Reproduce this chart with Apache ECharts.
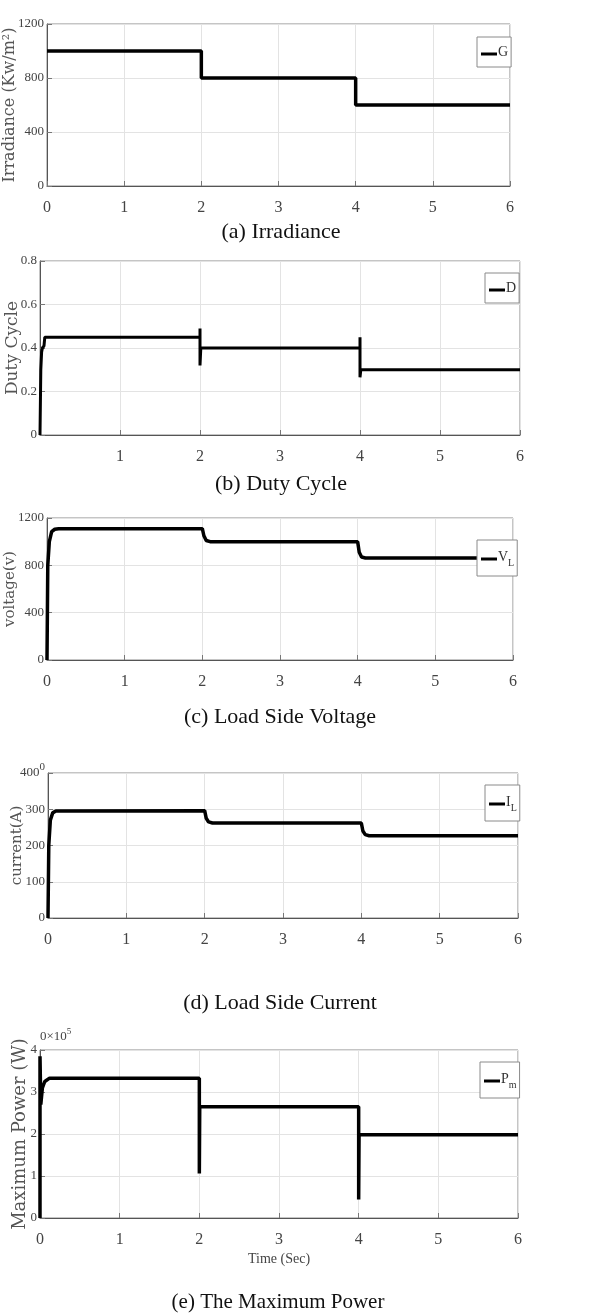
<!DOCTYPE html>
<html>
<head>
<meta charset="utf-8">
<script src="https://cdn.jsdelivr.net/npm/echarts@6/dist/echarts.min.js"></script>
<style>
html,body{margin:0;padding:0;background:#fff;}
#c{width:603px;height:1313px;}
</style>
</head>
<body>
<div id="c"></div>
<script>
// ---- data (time in s) ----
var xTicks = [0, 1, 2, 3, 4, 5, 6];
var irradiance = [[0,1000],[2,1000],[2,800],[4,800],[4,600],[6,600]];
var dutyCycle = [[0,0],[0.01,0.3],[0.02,0.38],[0.03,0.4],[0.05,0.41],[0.06,0.45],[2,0.45],[2,0.49],[2,0.32],[2.01,0.4],[4,0.4],[4,0.45],[4,0.265],[4.01,0.3],[6,0.3]];
var loadVoltage = [[0,0],[0.01,800],[0.03,1000],[0.06,1085],[0.1,1105],[0.15,1110],[2,1110],[2.02,1050],[2.05,1010],[2.1,1000],[4,1000],[4.02,910],[4.05,870],[4.1,862],[6,862]];
var loadCurrent = [[0,0],[0.01,200],[0.03,270],[0.06,290],[0.1,295],[2,296],[2.02,275],[2.05,265],[2.1,262],[4,262],[4.02,240],[4.05,230],[4.1,227],[6,227]];
var maxPower = [[0,0],[0,3.85],[0.01,2.7],[0.03,3.1],[0.06,3.25],[0.12,3.33],[2,3.33],[2,1.06],[2.005,2.65],[4,2.65],[4,0.44],[4.005,1.98],[6,1.98]]; // x10^5 W
var captions = ['(a) Irradiance','(b) Duty Cycle','(c) Load Side Voltage','(d) Load Side Current','(e) The Maximum Power'];
var yNames = ['Irradiance (Kw/m\u00B2)','Duty Cycle','voltage(v)','current(A)','Maximum Power (W)'];
var seriesNames = ['G','D','V_L','I_L','P_m'];

var grids = [
  {left:47, top:24,  width:463, height:162},
  {left:40, top:261, width:480, height:174},
  {left:47, top:518, width:466, height:142},
  {left:48, top:773, width:470, height:145},
  {left:40, top:1050,width:478, height:168}
];
var yCfg = [
  {min:0,max:1200,interval:400},
  {min:0,max:0.8,interval:0.2},
  {min:0,max:1200,interval:400},
  {min:0,max:400,interval:100},
  {min:0,max:4,interval:1}
];
var datasets = [irradiance, dutyCycle, loadVoltage, loadCurrent, maxPower];
var lineW = [3.5, 3, 3.5, 3.5, 3.5];
var captionY = [232, 484, 717, 1003, 1302];
var captionX = [281, 281, 280, 280, 278];
var captionFont = [22, 22, 22, 22, 21];
var nameGaps = [29, 19, 29, 23, 11];
var nameFonts = [16, 17, 15, 15, 18];
var legendPos = [
  {left:477, top:37},
  {left:485, top:273},
  {left:477, top:540},
  {left:485, top:785},
  {left:480, top:1062}
];

var FONT = 'Liberation Serif';
var graphics = captions.map(function(c,i){
  return {type:'text', x:captionX[i], y:captionY[i], silent:true,
    style:{text:c, align:'center', verticalAlign:'middle', font:captionFont[i]+'px "Liberation Serif"', fill:'#111'}};
});
graphics.push({
  type:'text', x:40, y:1037, silent:true,
  style:{text:'{a|0\u00D710}{b|5}', verticalAlign:'middle',
    rich:{a:{fontFamily:FONT, fontSize:13, fill:'#444'}, b:{fontFamily:FONT, fontSize:9, fill:'#444', padding:[0,0,10,0]}}}
});

var option = {
  backgroundColor:'#fff',
  animation:false,
  grid: grids.map(function(g){ return Object.assign({show:true, containLabel:false, outerBoundsMode:'none', borderColor:'#8a8a8a', borderWidth:1, backgroundColor:'transparent'}, g); }),
  legend: seriesNames.map(function(n,i){
    return Object.assign({
      data:[n], orient:'vertical', icon:'rect', itemWidth:16, itemHeight:3, itemGap:0,
      borderColor:'#8a8a8a', borderWidth:1, backgroundColor:'#fff', padding:[8,3,8,4], borderRadius:0,
      selectedMode:false,
      formatter:function(name){
        var p = name.split('_');
        return p.length>1 ? '{m|'+p[0]+'}{s|'+p[1]+'}' : '{m|'+p[0]+'}';
      },
      textStyle:{fontFamily:FONT, fontSize:14, color:'#333', padding:[0,0,0,-4],
        rich:{m:{fontFamily:FONT, fontSize:14, color:'#333', verticalAlign:'top', lineHeight:18},
              s:{fontFamily:FONT, fontSize:10, color:'#333', verticalAlign:'bottom', lineHeight:18, padding:[10,0,0,0]}}}
    }, legendPos[i]);
  }),
  xAxis: grids.map(function(g,i){
    return {
      type:'value', gridIndex:i, min:0, max:6, interval:1,
      name: i===4 ? 'Time (Sec)' : '', nameLocation:'middle', nameGap:34, nameMoveOverlap:false,
      nameTextStyle:{fontFamily:FONT, fontSize:14, color:'#444'},
      axisLine:{show:true, onZero:false, lineStyle:{color:'#555', width:1}},
      axisTick:{show:true, inside:true, length:5, lineStyle:{color:'#777'}},
      axisLabel:{fontFamily:FONT, fontSize:16, color:'#444', margin:14,
        formatter:function(v){ return (i===1 && v===0) ? '' : String(v); }},
      splitLine:{show:true, lineStyle:{color:'#e3e3e3', width:1}}
    };
  }),
  yAxis: grids.map(function(g,i){
    return {
      type:'value', gridIndex:i, min:yCfg[i].min, max:yCfg[i].max, interval:yCfg[i].interval,
      name:yNames[i], nameLocation:'middle', nameGap:nameGaps[i], nameMoveOverlap:false,
      nameTextStyle:{fontFamily:'DejaVu Serif', fontSize:nameFonts[i], color:'#555'},
      axisLine:{show:true, onZero:false, lineStyle:{color:'#555', width:1}},
      axisTick:{show:true, inside:true, length:5, lineStyle:{color:'#777'}},
      axisLabel:{fontFamily:FONT, fontSize:13, color:'#444', margin:3,
        formatter:function(v){
          if (i===3 && v===400) return '{n|400}{s|0}';
          return String(Math.round(v*10)/10);
        },
        rich:{n:{fontFamily:FONT, fontSize:13, color:'#444'}, s:{fontFamily:FONT, fontSize:11, color:'#444', padding:[0,0,12,0]}}},
      splitLine:{show:true, lineStyle:{color:'#e3e3e3', width:1}}
    };
  }),
  graphic: graphics,
  series: datasets.map(function(d,i){
    return {type:'line', name:seriesNames[i], xAxisIndex:i, yAxisIndex:i, data:d, showSymbol:false, symbol:'none',
      lineStyle:{color:'#000', width:lineW[i]}, itemStyle:{color:'#000'}, silent:true};
  })
};
var chart = echarts.init(document.getElementById('c'));
chart.setOption(option);
</script>
</body>
</html>
